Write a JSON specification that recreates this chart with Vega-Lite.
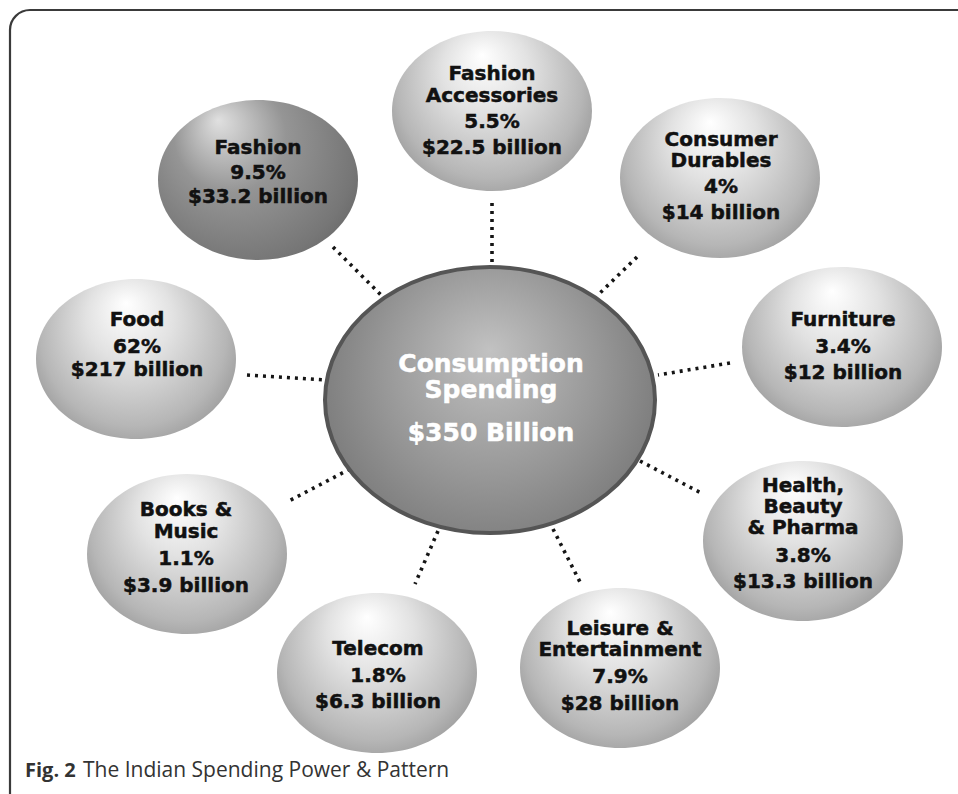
{
  "$schema": "https://vega.github.io/schema/vega-lite/v6.json",
  "width": 958,
  "height": 794,
  "padding": 0,
  "autosize": {"type": "none"},
  "background": "white",
  "config": {"view": {"stroke": null}},
  "datasets": {
    "frame": [{"x": 10, "y": 10, "x2": 1010, "y2": 860}],
    "links": [
      {"to": "Fashion", "x": 333, "y": 247, "x2": 383, "y2": 297},
      {"to": "Fashion Accessories", "x": 492, "y": 203, "x2": 492, "y2": 263},
      {"to": "Consumer Durables", "x": 637, "y": 257, "x2": 600, "y2": 293},
      {"to": "Furniture", "x": 730, "y": 363, "x2": 658, "y2": 375},
      {"to": "Health, Beauty & Pharma", "x": 640, "y": 461, "x2": 703, "y2": 494},
      {"to": "Leisure & Entertainment", "x": 553, "y": 529, "x2": 580, "y2": 582},
      {"to": "Telecom", "x": 438, "y": 531, "x2": 415, "y2": 584},
      {"to": "Books & Music", "x": 350, "y": 469, "x2": 287, "y2": 502},
      {"to": "Food", "x": 247, "y": 375, "x2": 326, "y2": 380}
    ],
    "bubbles": [
      {"name": "Fashion", "x": 258, "y": 180, "tone": "dark"},
      {"name": "Fashion Accessories", "x": 492, "y": 111, "tone": "light"},
      {"name": "Consumer Durables", "x": 720, "y": 178, "tone": "light"},
      {"name": "Furniture", "x": 842, "y": 347, "tone": "light"},
      {"name": "Food", "x": 136, "y": 359, "tone": "light"},
      {"name": "Books & Music", "x": 187, "y": 554, "tone": "light"},
      {"name": "Telecom", "x": 377, "y": 673, "tone": "light"},
      {"name": "Leisure & Entertainment", "x": 620, "y": 668, "tone": "light"},
      {"name": "Health, Beauty & Pharma", "x": 803, "y": 541, "tone": "light"},
      {"name": "Consumption Spending", "x": 490, "y": 400, "tone": "hub"}
    ],
    "labels": [
      {"t": "Fashion", "x": 258, "y": 148},
      {"t": "9.5%", "x": 258, "y": 173},
      {"t": "$33.2 billion", "x": 258, "y": 197},
      {"t": "Fashion", "x": 492, "y": 74},
      {"t": "Accessories", "x": 492, "y": 96},
      {"t": "5.5%", "x": 492, "y": 122},
      {"t": "$22.5 billion", "x": 492, "y": 148},
      {"t": "Consumer", "x": 721, "y": 140},
      {"t": "Durables", "x": 721, "y": 161},
      {"t": "4%", "x": 721, "y": 187},
      {"t": "$14 billion", "x": 721, "y": 213},
      {"t": "Furniture", "x": 843, "y": 320},
      {"t": "3.4%", "x": 843, "y": 347},
      {"t": "$12 billion", "x": 843, "y": 373},
      {"t": "Food", "x": 137, "y": 320},
      {"t": "62%", "x": 137, "y": 347},
      {"t": "$217 billion", "x": 137, "y": 370},
      {"t": "Books &", "x": 186, "y": 510},
      {"t": "Music", "x": 186, "y": 532},
      {"t": "1.1%", "x": 186, "y": 559},
      {"t": "$3.9 billion", "x": 186, "y": 586},
      {"t": "Telecom", "x": 378, "y": 649},
      {"t": "1.8%", "x": 378, "y": 676},
      {"t": "$6.3 billion", "x": 378, "y": 702},
      {"t": "Leisure &", "x": 620, "y": 629},
      {"t": "Entertainment", "x": 620, "y": 650},
      {"t": "7.9%", "x": 620, "y": 677},
      {"t": "$28 billion", "x": 620, "y": 704},
      {"t": "Health,", "x": 803, "y": 486},
      {"t": "Beauty", "x": 803, "y": 507},
      {"t": "& Pharma", "x": 803, "y": 528},
      {"t": "3.8%", "x": 803, "y": 556},
      {"t": "$13.3 billion", "x": 803, "y": 582}
    ],
    "hubLabels": [
      {"t": "Consumption", "x": 491, "y": 364},
      {"t": "Spending", "x": 491, "y": 390},
      {"t": "$350 Billion", "x": 491, "y": 433}
    ],
    "captionBold": [{"t": "Fig. 2", "x": 25, "y": 771}],
    "caption": [{"t": "The Indian Spending Power & Pattern", "x": 83, "y": 771}]
  },
  "encoding": {
    "x": {"field": "x", "type": "quantitative", "scale": {"domain": [0, 958], "nice": false, "zero": false}, "axis": null},
    "y": {"field": "y", "type": "quantitative", "scale": {"domain": [0, 794], "nice": false, "zero": false, "reverse": true}, "axis": null}
  },
  "layer": [
    {
      "data": {"name": "frame"},
      "mark": {"type": "rect", "filled": false, "stroke": "#3a3a3a", "strokeWidth": 2.2, "cornerRadius": 20, "clip": true},
      "encoding": {"x2": {"field": "x2"}, "y2": {"field": "y2"}}
    },
    {
      "data": {"name": "links"},
      "mark": {"type": "rule", "color": "#151515", "strokeWidth": 3.6, "strokeDash": [3, 5], "strokeCap": "butt"},
      "encoding": {"x2": {"field": "x2"}, "y2": {"field": "y2"}}
    },
    {
      "data": {"name": "bubbles"},
      "transform": [{"filter": "datum.tone === 'light'"}],
      "mark": {
        "type": "point", "filled": true, "opacity": 1, "size": 40000, "strokeWidth": 0,
        "shape": "M-1,0A1,0.8,0,1,1,1,0A1,0.8,0,1,1,-1,0Z",
        "fill": {"gradient": "radial", "x1": 0.45, "y1": 0.22, "r1": 0, "x2": 0.5, "y2": 0.42, "r2": 0.62,
          "stops": [{"offset": 0, "color": "#ffffff"}, {"offset": 0.35, "color": "#e2e2e2"}, {"offset": 0.75, "color": "#b6b6b6"}, {"offset": 1, "color": "#8c8c8c"}]}
      }
    },
    {
      "data": {"name": "bubbles"},
      "transform": [{"filter": "datum.tone === 'dark'"}],
      "mark": {
        "type": "point", "filled": true, "opacity": 1, "size": 40000, "strokeWidth": 0,
        "shape": "M-1,0A1,0.8,0,1,1,1,0A1,0.8,0,1,1,-1,0Z",
        "fill": {"gradient": "radial", "x1": 0.3, "y1": 0.2, "r1": 0, "x2": 0.45, "y2": 0.4, "r2": 0.7,
          "stops": [{"offset": 0, "color": "#e0e0e0"}, {"offset": 0.4, "color": "#959595"}, {"offset": 0.8, "color": "#767676"}, {"offset": 1, "color": "#5e5e5e"}]}
      }
    },
    {
      "data": {"name": "bubbles"},
      "transform": [{"filter": "datum.tone === 'hub'"}],
      "mark": {
        "type": "point", "filled": true, "opacity": 1, "size": 108900, "stroke": "#555555", "strokeWidth": 4,
        "shape": "M-1,0A1,0.806,0,1,1,1,0A1,0.806,0,1,1,-1,0Z",
        "fill": {"gradient": "radial", "x1": 0.5, "y1": 0.35, "r1": 0, "x2": 0.5, "y2": 0.45, "r2": 0.6,
          "stops": [{"offset": 0, "color": "#c2c2c2"}, {"offset": 0.55, "color": "#979797"}, {"offset": 0.88, "color": "#7c7c7c"}, {"offset": 1, "color": "#636363"}]}
      }
    },
    {
      "data": {"name": "labels"},
      "mark": {"type": "text", "font": "DejaVu Sans", "fontWeight": "bold", "fontSize": 20, "color": "#111111", "stroke": "#111111", "strokeWidth": 0.5, "align": "center", "baseline": "middle"},
      "encoding": {"text": {"field": "t"}}
    },
    {
      "data": {"name": "hubLabels"},
      "mark": {"type": "text", "font": "DejaVu Sans", "fontWeight": "bold", "fontSize": 25, "color": "#ffffff", "stroke": "#ffffff", "strokeWidth": 0.5, "align": "center", "baseline": "middle"},
      "encoding": {"text": {"field": "t"}}
    },
    {
      "data": {"name": "captionBold"},
      "mark": {"type": "text", "font": "Open Sans", "fontWeight": "bold", "fontSize": 20, "color": "#333333", "align": "left", "baseline": "middle"},
      "encoding": {"text": {"field": "t"}}
    },
    {
      "data": {"name": "caption"},
      "mark": {"type": "text", "font": "Open Sans", "fontSize": 21, "color": "#333333", "align": "left", "baseline": "middle"},
      "encoding": {"text": {"field": "t"}}
    }
  ]
}
